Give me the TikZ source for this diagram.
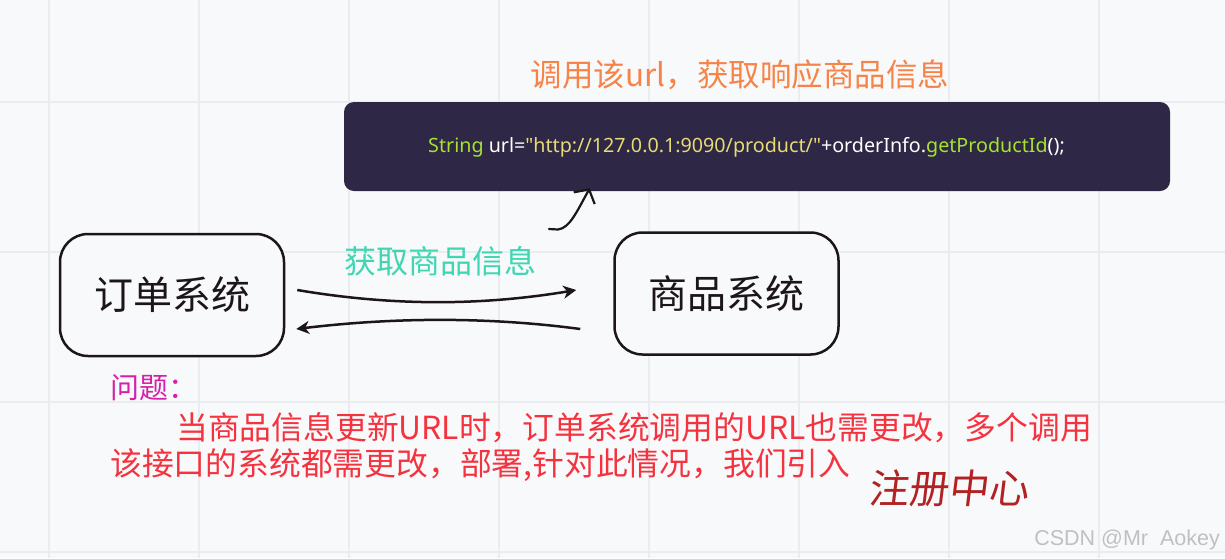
\documentclass[tikz,border=0pt]{standalone}
\usepackage{fontspec}
\setmainfont{Noto Sans CJK SC}
\newfontfamily\marksans{Liberation Sans}
\newfontfamily\codesans{Noto Sans}
\usepackage{tikz}
\usetikzlibrary{
  arrows.meta,
  positioning,
  calc
}
\definecolor{paper}{RGB}{248,249,251}
\definecolor{gridgray}{RGB}{234,236,239}
\definecolor{inkline}{RGB}{28,22,26}
\definecolor{codebg}{RGB}{46,39,70}
\definecolor{codegreen}{RGB}{166,226,46}
\definecolor{codeyellow}{RGB}{230,219,116}
\definecolor{calltone}{RGB}{246,132,72}
\definecolor{fetchtone}{RGB}{64,214,178}
\definecolor{issuetone}{RGB}{214,32,170}
\definecolor{notetone}{RGB}{245,51,63}
\definecolor{sealtone}{RGB}{178,34,34}
\definecolor{marktone}{RGB}{192,192,192}

\begin{document}
\begin{tikzpicture}[
        x=1pt, y=-1pt,
        >={Stealth[length=13pt,width=13pt,inset=4pt]},
        gridline/.style={line width=1.5pt, gridgray},
        sysbox/.style={draw=inkline, line width=2.5pt, rounded corners=28pt,
            fill=paper, inner sep=0pt, minimum width=224pt, minimum height=122pt,
            text=inkline, font=\fontsize{39}{39}\selectfont},
        codebox/.style={fill=codebg, rounded corners=10pt, inner sep=0pt,
            minimum width=826pt, minimum height=89pt},
        flow/.style={line width=2.5pt, inkline},
        say/.style={inner sep=0pt, font=\fontsize{#1}{#1}\selectfont},
        say/.default=31
    ]
        % Hintergrund und Raster
        \useasboundingbox[fill=paper] (0,0) rectangle (1225,558);
        \foreach \gx in {49,199,...,1099} {
            \draw[gridline] (\gx,0) -- (\gx,558);
        }
        \foreach \gy in {102,252,402,552} {
            \draw[gridline] (0,\gy) -- (1225,\gy);
        }

        % Aufruf der URL
        \node[say=31.5, text=calltone] (calltitle) at (740,75) {调用该url，获取响应商品信息};
        \node[codebox] (codeline) at (757,146.5) {};
        \node[inner sep=0pt, text=white, font=\codesans\fontsize{19.7}{19.7}\selectfont] (urlline)
            at ([xshift=-10.5pt,yshift=-0.5pt]codeline.center)
            {\textcolor{codegreen}{String} url=\textcolor{codeyellow}{"http://127.0.0.1:9090/product/"}+orderInfo.\textcolor{codegreen}{getProductId}();};
        \coordinate (hook) at (549,229);
        \draw[line width=2.2pt, inkline, line cap=round, -{Straight Barb[length=10pt,width=24pt,line width=2.2pt]}]
            (hook) -- (558,229.5) .. controls (570,228) and (577,211) .. ($(codeline.south west)+(246,-3)$);

        % Systeme
        \node[sysbox] (ordersys) at (172,295) {订单系统};
        \node[sysbox] (goodssys) at (726.5,293.5) {商品系统};
        \node[say=32, text=fetchtone] (fetchlabel) at (440,261) {获取商品信息};
        \draw[flow, ->] ($(ordersys.east)+(12,-5)$) .. controls +(100,17) and +(-90,15)
            .. ($(goodssys.west)+(-37,-3.5)$);
        \draw[flow, ->] ($(goodssys.west)+(-33,35.5)$) .. controls +(-90,-12) and +(100,-12)
            .. ($(ordersys.east)+(11,34)$);

        % Problem
        \node[say=29, text=issuetone, anchor=west] (issuehead) at (110,388) {问题：};
        \node[say=31.8, text=notetone, anchor=west] (issueone) at (176,428)
            {当商品信息更新URL时，订单系统调用的URL也需更改，多个调用};
        \node[say=31.8, text=notetone, anchor=west] (issuetwo) at (110,465)
            {该接口的系统都需更改，部署,针对此情况，我们引入};
        \node[say=40, text=sealtone, anchor=west] (regcenter) at (868,488)
            {\addfontfeature{FakeSlant=0.12}注册中心};

        % Wasserzeichen
        \node[inner sep=0pt, anchor=east, text=marktone, font=\marksans\fontsize{21.5}{21.5}\selectfont]
            (watermark) at (1220,540) {CSDN @Mr\ \ Aokey};
    \end{tikzpicture}
\end{document}
